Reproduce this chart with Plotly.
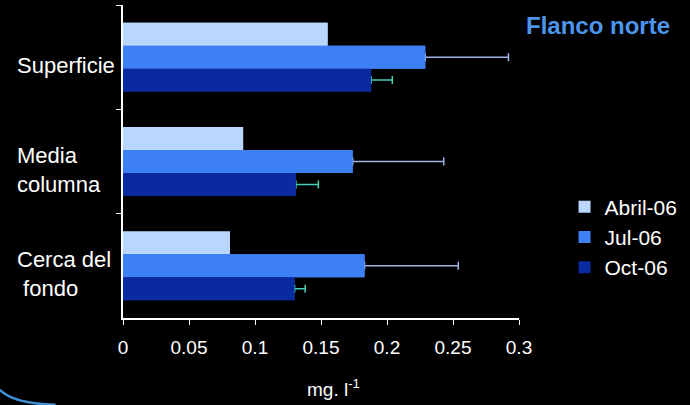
import plotly.graph_objects as go

categories = ["Superficie", "Media columna", "Cerca del fondo"]
cat_labels = ["Superficie", "Media<br>columna", "Cerca del<br> fondo"]
series_names = ["Abril-06", "Jul-06", "Oct-06"]
abril_vals = [0.155, 0.091, 0.081]
jul_vals = [0.229, 0.174, 0.183]
jul_err = [0.063, 0.069, 0.071]
oct_vals = [0.188, 0.131, 0.130]
oct_err = [0.016, 0.017, 0.008]
x_ticks = [0, 0.05, 0.1, 0.15, 0.2, 0.25, 0.3]
x_tick_labels = ["0", "0.05", "0.1", "0.15", "0.2", "0.25", "0.3"]

FONT = "Liberation Sans, Arial, sans-serif"
colors = ["#b9d7fc", "#3d80f4", "#0a2ba0"]
err_colors = [None, "#9fb3e6", "#45d0b8"]
values = [abril_vals, jul_vals, oct_vals]
errors = [None, jul_err, oct_err]

fig = go.Figure()
# bottom layer: bars with their error bars
for name, vals, errs, col, ecol in zip(series_names, values, errors, colors, err_colors):
    kw = {}
    if errs is not None:
        kw["error_x"] = dict(type="data", symmetric=False, array=errs,
                             arrayminus=[0] * len(errs), color=ecol,
                             thickness=1.5, width=4)
    fig.add_trace(go.Bar(
        y=categories, x=vals, name=name, orientation="h",
        marker=dict(color=col, line=dict(width=0)),
        showlegend=False, yaxis="y", **kw,
    ))
# top layer: same bars, covering the error-bar foot at the bar end
for name, vals, col in zip(series_names, values, colors):
    fig.add_trace(go.Bar(
        y=categories, x=vals, name=name, orientation="h",
        marker=dict(color=col, line=dict(width=0)),
        showlegend=True, yaxis="y2",
    ))

annotations = []
for cat, lab in zip(categories, cat_labels):
    annotations.append(dict(
        x=0, xref="paper", xshift=-108, y=cat, yref="y", yshift=-8,
        text=lab, showarrow=False, xanchor="left", yanchor="middle",
        align="left", font=dict(family=FONT, size=22, color="white"),
    ))
annotations.append(dict(
    x=1.0, xref="paper", xshift=5, y=1.0, yref="paper", yshift=-5,
    text="<b>Flanco norte</b>", showarrow=False, xanchor="left",
    yanchor="top", font=dict(family=FONT, size=24, color="#4d94ec"),
))
annotations.append(dict(
    x=0.5, xref="paper", xshift=12, y=0, yref="paper", yshift=-56,
    text="mg. l<sup>-1</sup>", showarrow=False, xanchor="center",
    yanchor="top", font=dict(family=FONT, size=19, color="white"),
))

yaxis_common = dict(
    categoryorder="array", categoryarray=categories,
    autorange="reversed", showticklabels=False,
    showgrid=False, zeroline=False,
)

fig.update_layout(
    width=690, height=405,
    margin=dict(l=123, r=171, t=5, b=87),
    paper_bgcolor="black", plot_bgcolor="black",
    barmode="group", bargap=0.34, bargroupgap=0,
    font=dict(family=FONT, color="white"),
    showlegend=True,
    legend=dict(
        x=1.115, y=0.42, xanchor="left", yanchor="top",
        font=dict(family=FONT, size=21, color="white"),
        bgcolor="rgba(0,0,0,0)", tracegroupgap=0,
    ),
    xaxis=dict(
        range=[0, 0.3], tickvals=x_ticks, ticktext=x_tick_labels,
        showgrid=False, zeroline=False, showline=True, linecolor="white",
        linewidth=1.5, ticks="outside", ticklen=5, tickcolor="white",
        ticklabelstandoff=6,
        tickfont=dict(family=FONT, size=19, color="white"),
    ),
    yaxis=dict(
        showline=True, linecolor="white", linewidth=1.5,
        ticks="outside", ticklen=5, tickcolor="white",
        tickson="boundaries", **yaxis_common,
    ),
    yaxis2=dict(overlaying="y", visible=False, **yaxis_common),
    annotations=annotations,
    shapes=[dict(
        type="path", xref="paper", yref="paper",
        path="M -0.311,-0.23 Q -0.275,-0.275 -0.17,-0.277",
        line=dict(color="#3f8fd6", width=2.5),
    )],
)

fig.write_html(
    "out.html",
    config={"displayModeBar": False},
    post_script="document.body.style.margin='0';document.body.style.background='black';",
)
